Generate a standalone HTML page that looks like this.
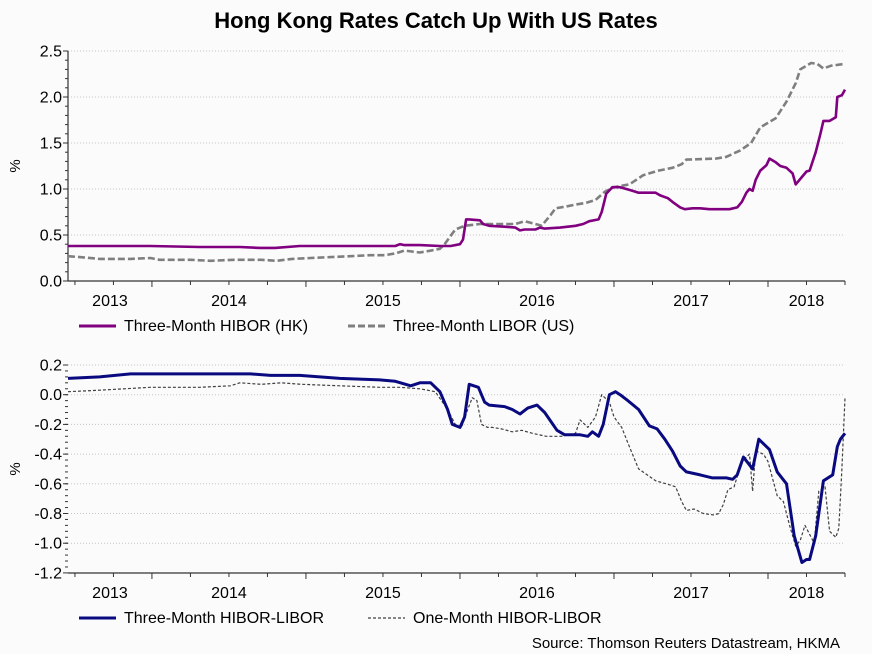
<!DOCTYPE html>
<html><head><meta charset="utf-8"><style>
html,body{margin:0;padding:0;background:#fbfbfb;}
svg{display:block;font-family:"Liberation Sans",Arial,sans-serif;}
</style></head><body>
<svg id="c" width="872" height="654" viewBox="0 0 872 654">
<text x="436" y="28" text-anchor="middle" font-size="22" font-weight="bold" fill="#000">Hong Kong Rates Catch Up With US Rates</text>
<g id="topPanel"></g>
<g id="botPanel"></g>
<text x="840" y="648" text-anchor="end" font-size="15" fill="#000">Source: Thomson Reuters Datastream, HKMA</text>
</svg>
<script>
// x values in decimal years
const hiborT=[2013.455,2013.99,2014.31,2014.57,2014.70,2014.80,2014.96,2015.29,2015.58,2015.61,2015.64,2015.74,2015.87,2015.94,2016.0,2016.02,2016.04,2016.06,2016.13,2016.15,2016.19,2016.29,2016.36,2016.39,2016.42,2016.49,2016.52,2016.55,2016.65,2016.75,2016.80,2016.84,2016.90,2016.92,2016.95,2016.99,2017.04,2017.10,2017.16,2017.23,2017.27,2017.30,2017.35,2017.38,2017.43,2017.46,2017.51,2017.56,2017.62,2017.69,2017.75,2017.80,2017.83,2017.86,2017.88,2017.90,2017.92,2017.95,2017.99,2018.01,2018.05,2018.08,2018.12,2018.16,2018.18,2018.22,2018.25,2018.27,2018.31,2018.34,2018.36,2018.40,2018.44,2018.45,2018.48,2018.50];
const hiborV=[0.38,0.38,0.37,0.37,0.36,0.36,0.38,0.38,0.38,0.40,0.39,0.39,0.38,0.38,0.40,0.45,0.67,0.67,0.66,0.62,0.60,0.59,0.58,0.55,0.56,0.56,0.58,0.57,0.58,0.60,0.62,0.65,0.67,0.75,0.95,1.02,1.02,0.99,0.96,0.96,0.96,0.93,0.90,0.86,0.80,0.78,0.79,0.79,0.78,0.78,0.78,0.80,0.86,0.96,1.00,0.98,1.10,1.20,1.26,1.33,1.29,1.25,1.23,1.17,1.05,1.13,1.19,1.20,1.40,1.60,1.74,1.74,1.78,2.00,2.02,2.08];
const liborT=[2013.455,2013.53,2013.66,2013.86,2013.99,2014.05,2014.25,2014.38,2014.54,2014.71,2014.81,2014.91,2015.03,2015.16,2015.29,2015.42,2015.51,2015.58,2015.64,2015.74,2015.81,2015.87,2015.9,2015.97,2016.03,2016.13,2016.26,2016.36,2016.42,2016.49,2016.53,2016.59,2016.62,2016.69,2016.75,2016.82,2016.88,2016.94,2017.0,2017.1,2017.19,2017.29,2017.38,2017.44,2017.47,2017.66,2017.73,2017.82,2017.89,2017.95,2018.05,2018.12,2018.18,2018.21,2018.28,2018.32,2018.36,2018.41,2018.5];
const liborV=[0.27,0.26,0.24,0.24,0.25,0.23,0.23,0.22,0.23,0.23,0.22,0.24,0.25,0.26,0.27,0.28,0.28,0.30,0.33,0.31,0.33,0.35,0.40,0.56,0.60,0.62,0.62,0.62,0.65,0.62,0.60,0.72,0.79,0.81,0.83,0.85,0.88,0.97,1.02,1.05,1.15,1.20,1.23,1.27,1.32,1.33,1.35,1.42,1.50,1.67,1.77,1.95,2.15,2.30,2.37,2.36,2.31,2.34,2.36];
const s3T=[2013.455,2013.66,2013.86,2014.64,2014.77,2014.96,2015.22,2015.48,2015.58,2015.68,2015.74,2015.81,2015.87,2015.92,2015.95,2016.0,2016.03,2016.06,2016.12,2016.16,2016.19,2016.29,2016.34,2016.39,2016.44,2016.50,2016.55,2016.63,2016.68,2016.78,2016.83,2016.86,2016.90,2016.93,2016.97,2017.01,2017.04,2017.09,2017.16,2017.23,2017.28,2017.33,2017.38,2017.43,2017.47,2017.56,2017.64,2017.73,2017.77,2017.80,2017.84,2017.90,2017.94,2018.01,2018.06,2018.12,2018.17,2018.22,2018.25,2018.27,2018.31,2018.36,2018.42,2018.45,2018.47,2018.50];
const s3V=[0.11,0.12,0.14,0.14,0.13,0.13,0.11,0.10,0.09,0.06,0.08,0.08,0.02,-0.10,-0.20,-0.22,-0.15,0.07,0.05,-0.05,-0.07,-0.08,-0.10,-0.13,-0.09,-0.07,-0.12,-0.24,-0.27,-0.27,-0.28,-0.25,-0.28,-0.20,0.00,0.02,0.00,-0.04,-0.10,-0.21,-0.23,-0.30,-0.38,-0.48,-0.52,-0.54,-0.56,-0.56,-0.57,-0.54,-0.42,-0.50,-0.30,-0.37,-0.52,-0.60,-0.95,-1.13,-1.11,-1.11,-0.95,-0.58,-0.54,-0.35,-0.30,-0.26];
const s1T=[2013.455,2013.66,2013.99,2014.31,2014.51,2014.57,2014.71,2014.84,2014.97,2015.22,2015.48,2015.61,2015.74,2015.84,2015.92,2015.97,2016.01,2016.05,2016.08,2016.11,2016.14,2016.18,2016.21,2016.27,2016.34,2016.4,2016.47,2016.56,2016.66,2016.75,2016.78,2016.83,2016.88,2016.92,2016.97,2017.0,2017.05,2017.1,2017.16,2017.23,2017.27,2017.34,2017.4,2017.44,2017.47,2017.52,2017.58,2017.65,2017.68,2017.71,2017.74,2017.78,2017.83,2017.88,2017.9,2017.92,2017.97,2018.0,2018.06,2018.1,2018.14,2018.18,2018.21,2018.24,2018.27,2018.3,2018.33,2018.37,2018.4,2018.44,2018.46,2018.48,2018.5];
const s1V=[0.02,0.03,0.05,0.05,0.06,0.08,0.07,0.08,0.07,0.06,0.05,0.05,0.04,0.02,-0.10,-0.20,-0.22,-0.10,-0.02,-0.04,-0.20,-0.22,-0.22,-0.23,-0.25,-0.24,-0.26,-0.28,-0.28,-0.26,-0.17,-0.22,-0.15,0.00,-0.05,-0.15,-0.22,-0.35,-0.50,-0.55,-0.58,-0.60,-0.62,-0.72,-0.78,-0.77,-0.80,-0.81,-0.80,-0.74,-0.64,-0.62,-0.45,-0.40,-0.65,-0.38,-0.40,-0.45,-0.68,-0.72,-0.88,-1.02,-0.98,-0.88,-0.94,-1.00,-0.65,-0.62,-0.92,-0.96,-0.90,-0.50,-0.02];
const yearLabels=["2013","2014","2015","2016","2017","2018"];
const topTicks=[0,0.5,1.0,1.5,2.0,2.5];
const botTicks=[0.2,0,-0.2,-0.4,-0.6,-0.8,-1.0,-1.2];

const NS="http://www.w3.org/2000/svg";
const X0=68,X1=845,T0=2013.455,T1=2018.5;
function xs(t){return X0+(t-T0)/(T1-T0)*(X1-X0);}
function mk(p,tag,at){const e=document.createElementNS(NS,tag);for(const k in at)e.setAttribute(k,at[k]);p.appendChild(e);return e;}
function fmt(v){return v.toFixed(1);}
function panel(g,ticks,y0,yA,vA,vB,bottomY){
  const ys=v=>y0+(v-vA)/(vB-vA)*(yA-y0);
  ticks.forEach(v=>{
    const y=ys(v);
    const gl=mk(g,'line',{x1:X0,x2:X1,y1:y,y2:y,stroke:'#c4c4c4','stroke-width':1,'stroke-dasharray':'1,2'});
    
    
    const tl=mk(g,'text',{x:62,y:y+5.5,'text-anchor':'end','font-size':16,fill:'#000'});
    tl.textContent=fmt(v);
    
    
    mk(g,'line',{x1:X0-5,x2:X0,y1:y,y2:y,stroke:'#333'});
  });
  const step=(ticks[1]-ticks[0])/5;
  for(let i=0;i<(ticks.length-1)*5;i++){const y=ys(ticks[0]+step*i);mk(g,'line',{x1:X0-3,x2:X0,y1:y,y2:y,stroke:'#333'});}
  mk(g,'line',{x1:X0,x2:X0,y1:ys(ticks[ticks.length-1]),y2:bottomY,stroke:'#333','stroke-width':1.2});
  mk(g,'line',{x1:X0,x2:X1,y1:bottomY,y2:bottomY,stroke:'#333','stroke-width':1.2});
  for(let q=2013.5;q<=2018.5;q+=0.25){const x=xs(q);if(x<X0-1||x>X1+1)continue;const major=Math.abs(q-Math.round(q))<1e-6;mk(g,'line',{x1:x,x2:x,y1:bottomY,y2:bottomY+(major?6:4),stroke:'#333'});}
  yearLabels.forEach((l,i)=>{
    const yr=2013+i;const a=Math.max(xs(yr),X0),b=Math.min(xs(yr+1),X1);
    const t=mk(g,'text',{x:(a+b)/2,y:bottomY+25,'text-anchor':'middle','font-size':16,fill:'#000'});
    t.textContent=l;
    
    
  });
  const pct=mk(g,'text',{transform:`translate(20,${(ys(ticks[0])+ys(ticks[ticks.length-1]))/2}) rotate(-90)`,'text-anchor':'middle','font-size':15,fill:'#000'});
  pct.textContent='%';
  
  
  return ys;
}
function line(g,T,V,ys,st,name){
  const n=Math.min(T.length,V.length);
  let d='';for(let i=0;i<n;i++){d+=(i?'L':'M')+xs(T[i]).toFixed(1)+','+ys(V[i]).toFixed(1);}
  const p=mk(g,'path',Object.assign({d:d,fill:'none','stroke-linejoin':'round'},st));
  
  
}
function legendItem(g,x,y,st,label,name){
  const lg=mk(g,'g',{});
  
  
  mk(lg,'line',Object.assign({x1:x,x2:x+37,y1:y-5,y2:y-5},st));
  const t=mk(lg,'text',{x:x+45,y:y,'font-size':16,fill:'#000'});t.textContent=label;
}
const topG=document.getElementById('topPanel');
const ysT=panel(topG,topTicks,281,51,0,2.5,281);
line(topG,liborT,liborV,ysT,{stroke:'#7f7f7f','stroke-width':2.6,'stroke-dasharray':'7,3'},'libor-us-line');
line(topG,hiborT,hiborV,ysT,{stroke:'#800080','stroke-width':2.6},'hibor-hk-line');
legendItem(topG,79,331,{stroke:'#800080','stroke-width':3},'Three-Month HIBOR (HK)','legend-hibor');
legendItem(topG,348,331,{stroke:'#7f7f7f','stroke-width':3,'stroke-dasharray':'7,3'},'Three-Month LIBOR (US)','legend-libor');
const botG=document.getElementById('botPanel');
const ysB=panel(botG,botTicks,394.7,365,0,0.2,573);
line(botG,s1T,s1V,ysB,{stroke:'#404040','stroke-width':1.2,'stroke-dasharray':'3,2'},'one-month-spread-line');
line(botG,s3T,s3V,ysB,{stroke:'#0a0a80','stroke-width':3},'three-month-spread-line');
legendItem(botG,79,623,{stroke:'#0a0a80','stroke-width':3},'Three-Month HIBOR-LIBOR','legend-three-month-spread');
legendItem(botG,368,623,{stroke:'#404040','stroke-width':1.3,'stroke-dasharray':'3,2'},'One-Month HIBOR-LIBOR','legend-one-month-spread');
</script>
</body></html>
